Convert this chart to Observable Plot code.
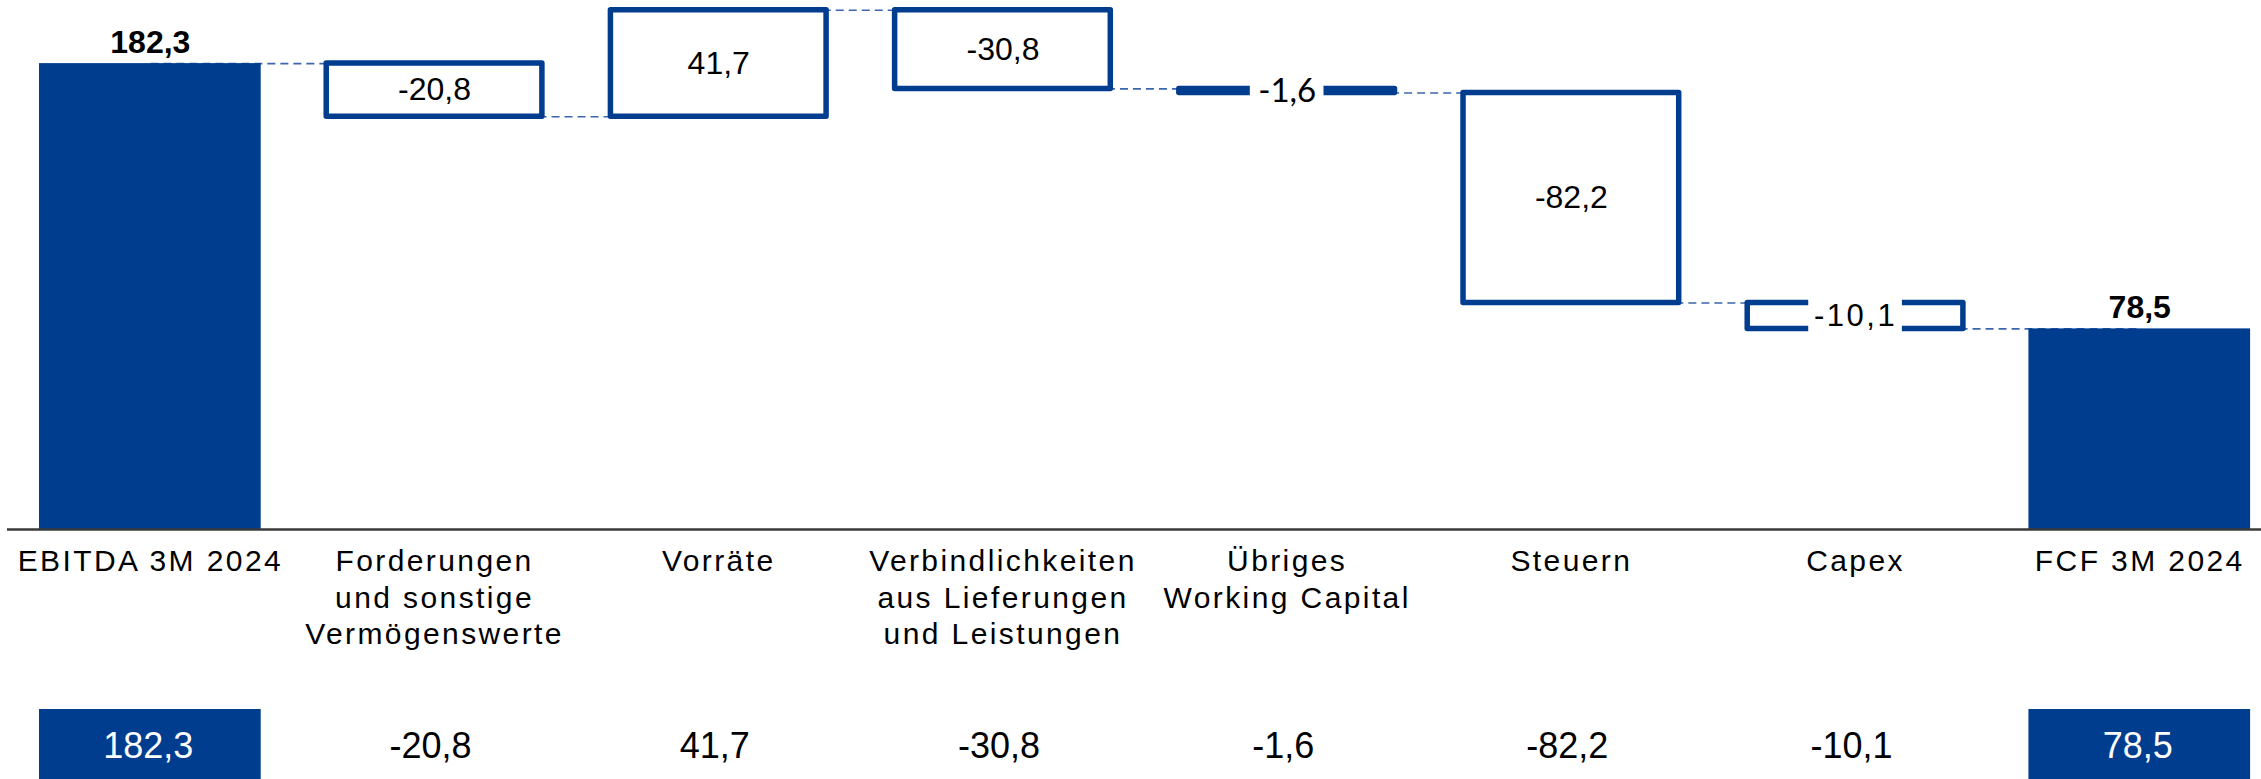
<!DOCTYPE html>
<html><head><meta charset="utf-8">
<script src="https://cdn.jsdelivr.net/npm/d3@7"></script>
<script src="https://cdn.jsdelivr.net/npm/@observablehq/plot@0.6"></script>
<style>
html,body{margin:0;padding:0;background:#fff;}
svg{display:block;}
</style></head><body><div id="chart"></div>
<script>
const categories = ["EBITDA 3M 2024","Forderungen\nund sonstige\nVermögenswerte","Vorräte","Verbindlichkeiten\naus Lieferungen\nund Leistungen","Übriges\nWorking Capital","Steuern","Capex","FCF 3M 2024"];
const values = [182.3, -20.8, 41.7, -30.8, -1.6, -82.2, -10.1, 78.5];
const kinds = ["total","delta","delta","delta","delta","delta","delta","total"];

const blue = "#003d8f";
const fmt = v => v.toFixed(1).replace(".", ",");
let run = 0;
const rows = categories.map((c, i) => {
  const v = values[i];
  let s, e;
  if (kinds[i] === "total") { s = 0; e = v; } else { s = run; e = run + v; }
  run = e;
  return {cat: c, value: v, kind: kinds[i], start: s, end: e, mid: (s + e) / 2, label: fmt(v)};
});
const links = rows.slice(0, -1).map((r, i) => ({from: r.cat, to: rows[i + 1].cat, level: r.end}));
const totals = rows.filter(d => d.kind === "total");
const deltas = rows.filter(d => d.kind === "delta");
const yMax = d3.max(rows, d => Math.max(d.start, d.end));

const xOpts = {domain: categories, paddingInner: 0.22, paddingOuter: 0.0755, align: 0.746, round: false, axis: null};
const font = "Liberation Sans, Arial, sans-serif";

const main = Plot.plot({
  width: 2261, height: 709,
  marginLeft: 7, marginRight: 0, marginTop: 9.7, marginBottom: 180,
  x: xOpts,
  y: {domain: [0, yMax], axis: null},
  style: {fontFamily: font, background: "white"},
  marks: [
    Plot.link(links, {x1: "from", x2: "to", y1: "level", y2: "level", stroke: "#3b66ad", strokeWidth: 1.6, strokeDasharray: "8,5"}),
    Plot.barY(deltas, {x: "cat", y1: "start", y2: "end", fill: "white", stroke: blue, strokeWidth: 5.5, strokeLinejoin: "round", insetLeft: 3, insetRight: 3}),
    Plot.barY(totals, {x: "cat", y1: "start", y2: "end", fill: blue}),
    Plot.barY(rows.filter(d => d.cat === categories[4]), {x: "cat", y1: "start", y2: "end", fill: "white", insetLeft: 74, insetRight: 74, insetTop: -7, insetBottom: -7}),
    Plot.barY(rows.filter(d => d.cat === categories[6]), {x: "cat", y1: "start", y2: "end", fill: "white", insetLeft: 64, insetRight: 64, insetTop: -7, insetBottom: -7}),
    Plot.ruleY([0], {stroke: "#3a3a3a", strokeWidth: 2.5}),
    Plot.text(totals, {x: "cat", y: "end", text: "label", dy: -11, lineAnchor: "bottom", fontWeight: "bold", fontSize: 32, fill: "black"}),
    Plot.text(deltas.filter(d => d.cat !== categories[4] && d.cat !== categories[6]), {x: "cat", y: "mid", text: "label", lineAnchor: "middle", fontSize: 32, fill: "black"}),
    Plot.text(rows.filter(d => d.cat === categories[4]), {x: "cat", y: "mid", text: "label", lineAnchor: "middle", fontSize: 33, fontFamily: "Lato, sans-serif", fill: "black"}),
    Plot.text(rows.filter(d => d.cat === categories[6]), {x: "cat", y: "mid", text: "label", lineAnchor: "middle", fontSize: 31, fill: "black"}),
    Plot.text(rows, {x: "cat", y: 0, text: "cat", lineAnchor: "top", dy: 15, fontSize: 30, lineHeight: 1.23, fill: "black"})
  ]
});
// letter spacing for the capex label (4th text mark) and category labels (5th text mark)
const textGroups = Array.from(main.children).filter(el => el.tagName.toLowerCase() === "g" && el.getAttribute("aria-label") === "text");
function spacing(g, px) {
  if (!g) return;
  g.style.letterSpacing = px + "px";
  g.querySelectorAll("text, tspan").forEach(t => { t.style.letterSpacing = px + "px"; });
}
spacing(textGroups[3], 2.5);
spacing(textGroups[4], 2.4);

const table = Plot.plot({
  width: 2261, height: 70,
  marginLeft: 7, marginRight: 0, marginTop: 0, marginBottom: 0,
  x: xOpts,
  y: {domain: [0, 1], axis: null},
  style: {fontFamily: font, background: "white"},
  marks: [
    Plot.barY(totals, {x: "cat", y1: 0, y2: 1, fill: blue}),
    Plot.text(totals, {x: "cat", y: 0.5, text: "label", lineAnchor: "middle", dy: 2, dx: -2, fontSize: 36, fill: "white"}),
    Plot.text(deltas, {x: "cat", y: 0.5, text: "label", lineAnchor: "middle", dy: 2, dx: -4, fontSize: 36, fill: "black"})
  ]
});
const root = document.getElementById("chart");
root.appendChild(main);
root.appendChild(table);
</script></body></html>
